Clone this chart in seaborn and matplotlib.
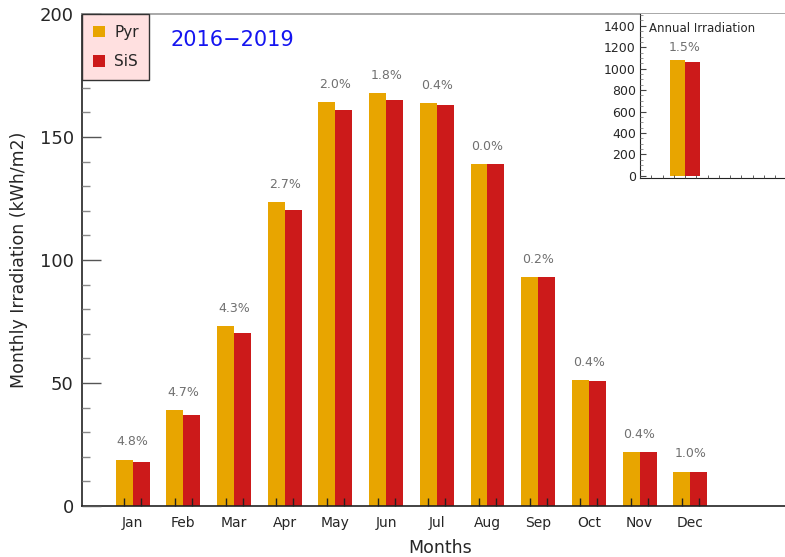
import numpy as np
import pandas as pd
import matplotlib
matplotlib.use("Agg")
import matplotlib.pyplot as plt
from matplotlib.ticker import MultipleLocator, FixedLocator
from matplotlib.patches import Patch
import seaborn as sns

months = ["Jan", "Feb", "Mar", "Apr", "May", "Jun",
          "Jul", "Aug", "Sep", "Oct", "Nov", "Dec"]
pyr = [18.9, 38.9, 73.2, 123.4, 164.2, 167.9, 163.8, 139.1, 93.1, 51.2, 22.0, 14.0]
sis = [18.0, 37.1, 70.2, 120.2, 161.0, 164.9, 163.1, 139.1, 92.9, 51.0, 21.9, 13.9]
diff_labels = ["4.8%", "4.7%", "4.3%", "2.7%", "2.0%", "1.8%",
               "0.4%", "0.0%", "0.2%", "0.4%", "0.4%", "1.0%"]
annual_pyr = 1080
annual_sis = 1064
annual_label = "1.5%"

sensors = ["Pyr", "SiS"]
colors = {"Pyr": "#E8A500", "SiS": "#CC1A1A"}
period = "2016\u22122019"

df = pd.DataFrame({
    "month": months * 2,
    "value": pyr + sis,
    "sensor": ["Pyr"] * 12 + ["SiS"] * 12,
})
df_annual = pd.DataFrame({
    "period": ["Annual", "Annual"],
    "value": [annual_pyr, annual_sis],
    "sensor": sensors,
})

sns.set_style("ticks")
plt.rcParams["font.family"] = ["DejaVu Sans"]

W, H = 785, 557
fig = plt.figure(figsize=(W / 100, H / 100), dpi=100)
ax = fig.add_axes([82 / W, (H - 506) / H, 703 / W, (506 - 14) / H])

bw = 0.67
sns.barplot(data=df, x="month", y="value", hue="sensor", order=months,
            hue_order=sensors, palette=colors, width=bw, ax=ax, saturation=1,
            edgecolor="none", legend=False, errorbar=None)
ax.set_axisbelow(False)

ax.set_xlim(-1, 12.87)
ax.set_ylim(0, 200)

# percentage labels above each month
for i, lab in enumerate(diff_labels):
    top = max(pyr[i], sis[i])
    ax.text(i, top + 4.5, lab, ha="center", va="bottom", fontsize=9, color="#707070")

# ticks
ax.yaxis.set_major_locator(MultipleLocator(50))
ax.yaxis.set_minor_locator(MultipleLocator(10))
ax.tick_params(axis="y", which="major", direction="in", length=14, width=1,
               color="#555555", labelsize=13, pad=6)
ax.tick_params(axis="y", which="minor", direction="in", length=6, width=1,
               color="#888888")
ax.set_xticks(range(12))
ax.set_xticklabels(months)
ax.xaxis.set_minor_locator(FixedLocator(
    [i + d for i in range(12) for d in (-bw / 4, bw / 4)]))
ax.tick_params(axis="x", which="major", length=0, labelsize=10, pad=7)
ax.tick_params(axis="x", which="minor", direction="in", length=6, width=1,
               color="#222222")

for s in ["left", "bottom"]:
    ax.spines[s].set_color("#222222")
    ax.spines[s].set_linewidth(1.2)
ax.spines["top"].set_color("#999999")
ax.spines["top"].set_linewidth(1.2)
ax.spines["right"].set_visible(False)

ax.set_ylabel("Monthly Irradiation (kWh/m2)", fontsize=12.5, labelpad=8)
ax.set_xlabel("Months", fontsize=12.5)
ax.xaxis.set_label_coords(0.51, -0.068)

# legend box
handles = [Patch(facecolor=colors[s], edgecolor="none", label=s) for s in sensors]
leg = ax.legend(handles=handles, loc="upper left", bbox_to_anchor=(0, 1),
                fontsize=11, frameon=True, fancybox=False, borderaxespad=0,
                handlelength=0.8, handleheight=0.8, handletextpad=0.6,
                labelspacing=0.95, borderpad=0.7)
leg.get_frame().set_facecolor("#FFE0E0")
leg.get_frame().set_edgecolor("#333333")
leg.get_frame().set_alpha(1)
leg.get_frame().set_linewidth(1)

fig.text(170 / W, 1 - 40 / H, period, fontsize=15, color="#1515F0",
         ha="left", va="center")

# inset with the annual total
ax2 = fig.add_axes([640 / W, (H - 178) / H, 145 / W, (178 - 14) / H])
sns.barplot(data=df_annual, x="period", y="value", hue="sensor",
            hue_order=sensors, palette=colors, width=bw, ax=ax2, saturation=1,
            edgecolor="none", legend=False, errorbar=None)
ax2.set_axisbelow(False)
ax2.set_xlim(-1, 2.22)
ax2.set_ylim(-20, 1510)
ax2.set_xticks([])
ax2.xaxis.set_minor_locator(MultipleLocator(0.25))
ax2.tick_params(axis="x", which="minor", direction="in", length=2, color="#444444")
ax2.yaxis.set_major_locator(MultipleLocator(200))
ax2.yaxis.set_minor_locator(MultipleLocator(50))
ax2.tick_params(axis="y", which="major", direction="in", length=4, labelsize=9,
                pad=3, color="#444444")
ax2.tick_params(axis="y", which="minor", direction="in", length=2, color="#888888")
ax2.set_xlabel("")
ax2.set_ylabel("")
ax2.spines["top"].set_visible(False)
ax2.spines["right"].set_visible(False)
ax2.spines["left"].set_color("#222222")
ax2.spines["bottom"].set_color("#222222")
ax2.patch.set_facecolor("white")
ax2.text(0.06, 0.91, "Annual Irradiation", transform=ax2.transAxes,
         fontsize=8.5, ha="left", va="center")
ax2.text(0, max(annual_pyr, annual_sis) + 60, annual_label, ha="center",
         va="bottom", fontsize=9, color="#707070")

fig.savefig("out.png", dpi=100)
